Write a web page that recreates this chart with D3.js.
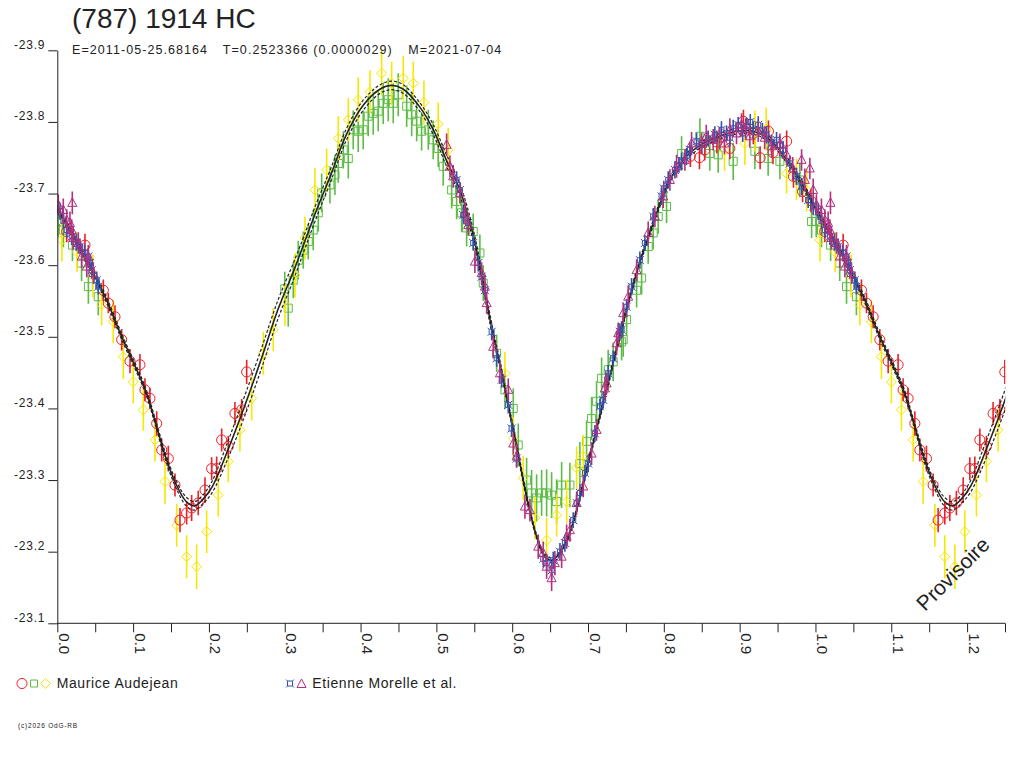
<!DOCTYPE html>
<html>
<head>
<meta charset="utf-8">
<title>(787) 1914 HC</title>
<script src="https://cdn.jsdelivr.net/npm/d3@7"></script>
<style>
  body { margin: 0; background: #fff; }
  svg { display: block; font-family: "Liberation Sans", Arial, sans-serif; }
</style>
</head>
<body>
<svg id="chart" width="1024" height="768"></svg>
<script>
// --- axis ticks ---
const xTicks = [0.0, 0.1, 0.2, 0.3, 0.4, 0.5, 0.6, 0.7, 0.8, 0.9, 1.0, 1.1, 1.2];
const xMinorTicks = [0.05, 0.15, 0.25, 0.35, 0.45, 0.55, 0.65, 0.75, 0.85, 0.95, 1.05, 1.15, 1.25];
const yTicks = [-23.9, -23.8, -23.7, -23.6, -23.5, -23.4, -23.3, -23.2, -23.1];

// --- fitted light curve (phase, magnitude, uncertainty of the fit) ---
const fitPhase = [0.000, 0.015, 0.040, 0.063, 0.085, 0.116, 0.129, 0.142, 0.155, 0.170, 0.181, 0.192, 0.204, 0.225, 0.247,
  0.270, 0.291, 0.311, 0.320, 0.342, 0.360, 0.382, 0.404, 0.426, 0.441, 0.456, 0.478, 0.496, 0.513, 0.531,
  0.549, 0.566, 0.575, 0.584, 0.597, 0.606, 0.6145, 0.623, 0.632, 0.643, 0.652, 0.663, 0.674, 0.685, 0.698,
  0.711, 0.7245, 0.738, 0.764, 0.786, 0.808, 0.830, 0.852, 0.874, 0.896, 0.918, 0.940, 0.962, 0.984, 1.000];
const fitMag = [-23.679, -23.652, -23.604, -23.556, -23.500, -23.426, -23.382, -23.335, -23.298, -23.270, -23.264, -23.273, -23.290, -23.342, -23.403,
  -23.472, -23.538, -23.590, -23.615, -23.677, -23.724, -23.784, -23.824, -23.846, -23.851, -23.846, -23.821, -23.789, -23.747, -23.705,
  -23.640, -23.550, -23.502, -23.461, -23.393, -23.347, -23.300, -23.258, -23.222, -23.194, -23.188, -23.198, -23.221, -23.258, -23.314,
  -23.370, -23.426, -23.485, -23.589, -23.659, -23.719, -23.752, -23.770, -23.780, -23.787, -23.787, -23.775, -23.747, -23.710, -23.679];
const fitSpread = [0.004, 0.004, 0.004, 0.004, 0.004, 0.004, 0.004, 0.005, 0.005, 0.006, 0.006, 0.006, 0.008, 0.012, 0.014,
  0.014, 0.013, 0.012, 0.011, 0.010, 0.009, 0.008, 0.007, 0.006, 0.006, 0.006, 0.006, 0.007, 0.008, 0.008,
  0.008, 0.007, 0.006, 0.005, 0.004, 0.004, 0.004, 0.003, 0.003, 0.003, 0.003, 0.003, 0.003, 0.003, 0.004,
  0.004, 0.004, 0.004, 0.004, 0.004, 0.004, 0.004, 0.004, 0.004, 0.004, 0.004, 0.004, 0.004, 0.004, 0.004];

// --- Maurice Audejean: [phase, magnitude, error] ---
const audejeanCircles = [
  [0.0124, -23.647, 0.015], [0.0365, -23.628, 0.016], [0.0607, -23.565, 0.015], [0.0673, -23.547, 0.014],
  [0.0761, -23.528, 0.016], [0.0849, -23.496, 0.015], [0.0959, -23.466, 0.017], [0.1090, -23.461, 0.015],
  [0.1156, -23.426, 0.016], [0.1222, -23.414, 0.015], [0.1311, -23.379, 0.017], [0.1377, -23.342, 0.016],
  [0.1464, -23.330, 0.018], [0.1552, -23.293, 0.016], [0.1618, -23.244, 0.017], [0.1706, -23.254, 0.016],
  [0.1772, -23.261, 0.018], [0.1859, -23.268, 0.017], [0.1948, -23.286, 0.018], [0.2036, -23.316, 0.016],
  [0.2102, -23.316, 0.017], [0.2168, -23.356, 0.016], [0.2255, -23.347, 0.015], [0.2343, -23.393, 0.016],
  [0.2432, -23.398, 0.015], [0.2498, -23.451, 0.017],
  [0.835, -23.752, 0.015], [0.847, -23.750, 0.016], [0.854, -23.761, 0.015], [0.870, -23.772, 0.016],
  [0.887, -23.763, 0.015], [0.905, -23.801, 0.016], [0.918, -23.784, 0.015], [0.927, -23.750, 0.016],
  [0.938, -23.787, 0.015], [0.944, -23.757, 0.016], [0.962, -23.773, 0.015], [0.971, -23.724, 0.016],
  [0.983, -23.703, 0.015], [0.994, -23.690, 0.016]
];
const audejeanSquares = [
  [0.001, -23.661, 0.022], [0.008, -23.649, 0.024], [0.020, -23.628, 0.022], [0.032, -23.603, 0.025],
  [0.041, -23.570, 0.024], [0.054, -23.556, 0.026],
  [0.300, -23.567, 0.024], [0.3046, -23.540, 0.026], [0.3112, -23.579, 0.025], [0.3178, -23.607, 0.027],
  [0.3244, -23.621, 0.026], [0.3310, -23.633, 0.025], [0.3376, -23.649, 0.028], [0.3442, -23.673, 0.026],
  [0.3487, -23.701, 0.027], [0.3596, -23.712, 0.026], [0.3662, -23.726, 0.028], [0.3706, -23.742, 0.027],
  [0.3772, -23.761, 0.026], [0.3838, -23.749, 0.028], [0.3903, -23.789, 0.027], [0.3969, -23.787, 0.029],
  [0.4035, -23.789, 0.027], [0.4101, -23.808, 0.028], [0.4167, -23.812, 0.030], [0.4233, -23.815, 0.028],
  [0.4299, -23.826, 0.029], [0.4365, -23.831, 0.030], [0.4431, -23.826, 0.028], [0.4497, -23.838, 0.030],
  [0.4608, -23.822, 0.029], [0.4674, -23.810, 0.030], [0.4740, -23.801, 0.028], [0.4805, -23.787, 0.027],
  [0.4893, -23.789, 0.028], [0.4958, -23.775, 0.027], [0.5024, -23.763, 0.026], [0.5090, -23.738, 0.027],
  [0.5201, -23.705, 0.026], [0.5267, -23.689, 0.025], [0.5333, -23.673, 0.027], [0.5399, -23.652, 0.026],
  [0.5486, -23.647, 0.025], [0.5574, -23.617, 0.026], [0.5618, -23.575, 0.025],
  [0.5795, -23.477, 0.026], [0.5904, -23.426, 0.027], [0.6014, -23.400, 0.028], [0.6080, -23.349, 0.030],
  [0.6190, -23.300, 0.031], [0.6256, -23.282, 0.032], [0.6322, -23.275, 0.033], [0.6388, -23.282, 0.032],
  [0.6454, -23.282, 0.033], [0.6520, -23.279, 0.032], [0.6586, -23.270, 0.031], [0.6652, -23.293, 0.032],
  [0.6761, -23.293, 0.031], [0.6893, -23.323, 0.030], [0.6981, -23.354, 0.029], [0.7047, -23.386, 0.030],
  [0.7113, -23.410, 0.028], [0.7179, -23.442, 0.029], [0.7266, -23.454, 0.028], [0.7332, -23.465, 0.027],
  [0.7443, -23.493, 0.026],
  [0.7464, -23.496, 0.024], [0.7509, -23.524, 0.023], [0.7641, -23.565, 0.024], [0.7707, -23.582, 0.023],
  [0.7794, -23.626, 0.024], [0.7860, -23.645, 0.023], [0.7926, -23.668, 0.024], [0.8036, -23.682, 0.023],
  [0.8234, -23.756, 0.024], [0.8476, -23.780, 0.025], [0.8607, -23.756, 0.024], [0.8717, -23.754, 0.025],
  [0.8915, -23.745, 0.026], [0.9201, -23.759, 0.025], [0.9376, -23.749, 0.024], [0.9531, -23.745, 0.025],
  [0.9794, -23.719, 0.024], [0.9949, -23.661, 0.023]
];
const audejeanDiamonds = [
  [0.006, -23.635, 0.030], [0.026, -23.618, 0.028], [0.047, -23.585, 0.030],
  [0.0585, -23.545, 0.029], [0.0738, -23.521, 0.030], [0.0870, -23.472, 0.031], [0.1002, -23.437, 0.030],
  [0.1134, -23.398, 0.029], [0.1288, -23.356, 0.030], [0.1420, -23.298, 0.031], [0.1575, -23.237, 0.030],
  [0.1706, -23.193, 0.030], [0.1838, -23.179, 0.031], [0.1970, -23.228, 0.030], [0.2123, -23.279, 0.030],
  [0.2255, -23.326, 0.029], [0.2409, -23.370, 0.030], [0.2564, -23.414, 0.031], [0.2717, -23.477, 0.030],
  [0.2848, -23.510, 0.030],
  [0.3003, -23.545, 0.030], [0.3135, -23.586, 0.031], [0.3266, -23.638, 0.030], [0.3398, -23.705, 0.031],
  [0.3553, -23.733, 0.030], [0.3706, -23.777, 0.031], [0.3838, -23.803, 0.030], [0.3969, -23.831, 0.031],
  [0.4124, -23.842, 0.030], [0.4278, -23.868, 0.031], [0.4410, -23.854, 0.030], [0.4563, -23.861, 0.031],
  [0.4695, -23.854, 0.030], [0.4836, -23.827, 0.031], [0.5024, -23.797, 0.030], [0.5156, -23.761, 0.030],
  [0.5904, -23.449, 0.030], [0.6014, -23.358, 0.030], [0.6145, -23.303, 0.031], [0.6300, -23.247, 0.030],
  [0.6454, -23.216, 0.031], [0.6586, -23.251, 0.030], [0.6718, -23.270, 0.031], [0.6850, -23.317, 0.030],
  [0.6937, -23.333, 0.030],
  [0.880, -23.760, 0.028], [0.9069, -23.770, 0.030], [0.9201, -23.787, 0.029], [0.935, -23.790, 0.030],
  [0.9619, -23.728, 0.028], [0.975, -23.720, 0.029], [0.9883, -23.705, 0.030]
];

// --- Etienne Morelle et al.: [phase, magnitude, error] ---
const morelleStars = [
  [0.0036, -23.675, 0.012], [0.008, -23.662, 0.012], [0.0124, -23.649, 0.011], [0.0190, -23.640, 0.012],
  [0.025, -23.632, 0.012], [0.0299, -23.626, 0.011], [0.036, -23.617, 0.012], [0.0409, -23.612, 0.012],
  [0.0431, -23.603, 0.011], [0.0454, -23.593, 0.012], [0.0520, -23.579, 0.012], [0.0540, -23.570, 0.011],
  [0.5267, -23.719, 0.012], [0.5310, -23.705, 0.011], [0.5354, -23.670, 0.012], [0.5420, -23.659, 0.012],
  [0.5486, -23.631, 0.011], [0.5552, -23.603, 0.012], [0.5597, -23.584, 0.012], [0.5640, -23.565, 0.011],
  [0.5729, -23.507, 0.012], [0.5795, -23.470, 0.012], [0.5861, -23.440, 0.011], [0.5948, -23.405, 0.012],
  [0.5992, -23.372, 0.012], [0.6058, -23.330, 0.011], [0.6410, -23.190, 0.012], [0.6454, -23.184, 0.012],
  [0.6520, -23.174, 0.013], [0.6541, -23.188, 0.012], [0.6630, -23.200, 0.012], [0.6695, -23.212, 0.012],
  [0.6805, -23.244, 0.011], [0.6850, -23.268, 0.012], [0.6893, -23.282, 0.012], [0.6959, -23.310, 0.011],
  [0.7003, -23.323, 0.012], [0.7091, -23.365, 0.012], [0.7157, -23.403, 0.011], [0.7200, -23.412, 0.012],
  [0.7266, -23.449, 0.012], [0.7332, -23.470, 0.011], [0.7420, -23.507, 0.012],
  [0.7443, -23.510, 0.012], [0.7509, -23.542, 0.011], [0.7575, -23.570, 0.012], [0.7684, -23.607, 0.012],
  [0.7750, -23.631, 0.011], [0.7860, -23.668, 0.012], [0.7970, -23.696, 0.012], [0.8000, -23.707, 0.011],
  [0.8058, -23.719, 0.012], [0.8146, -23.733, 0.012], [0.8200, -23.740, 0.011], [0.8234, -23.745, 0.012],
  [0.8300, -23.752, 0.012], [0.8344, -23.761, 0.011], [0.8432, -23.773, 0.012], [0.8500, -23.768, 0.012],
  [0.8585, -23.777, 0.011], [0.8673, -23.782, 0.012], [0.8760, -23.789, 0.012], [0.8828, -23.784, 0.011],
  [0.8870, -23.778, 0.012], [0.8915, -23.791, 0.012], [0.8981, -23.796, 0.011], [0.9040, -23.784, 0.012],
  [0.9091, -23.794, 0.012], [0.9140, -23.800, 0.011], [0.9179, -23.789, 0.012], [0.9245, -23.796, 0.012],
  [0.9300, -23.788, 0.011], [0.9355, -23.782, 0.012], [0.9420, -23.770, 0.012], [0.9487, -23.775, 0.011],
  [0.9530, -23.768, 0.012], [0.9574, -23.761, 0.012], [0.9662, -23.742, 0.011], [0.9750, -23.724, 0.012],
  [0.9817, -23.710, 0.012], [0.9904, -23.691, 0.011], [0.9970, -23.682, 0.012]
];
const morelleTriangles = [
  [0.0013, -23.684, 0.015], [0.0079, -23.677, 0.016], [0.0124, -23.663, 0.015], [0.0167, -23.659, 0.016],
  [0.0198, -23.687, 0.016], [0.0190, -23.649, 0.015], [0.0211, -23.638, 0.016], [0.0277, -23.631, 0.015],
  [0.0322, -23.612, 0.016], [0.0388, -23.598, 0.015], [0.0409, -23.612, 0.016], [0.0475, -23.589, 0.015],
  [0.5135, -23.768, 0.016], [0.5179, -23.738, 0.015], [0.5222, -23.724, 0.016], [0.5310, -23.701, 0.015],
  [0.5377, -23.673, 0.016], [0.5420, -23.656, 0.015], [0.5508, -23.605, 0.016], [0.5597, -23.589, 0.015],
  [0.5640, -23.570, 0.016], [0.5663, -23.547, 0.015],
  [0.5750, -23.486, 0.016], [0.5838, -23.449, 0.015], [0.5948, -23.426, 0.016], [0.6014, -23.351, 0.015],
  [0.6058, -23.333, 0.016], [0.6168, -23.263, 0.017], [0.6234, -23.258, 0.016], [0.6343, -23.207, 0.017],
  [0.6409, -23.198, 0.016], [0.6454, -23.179, 0.017], [0.6520, -23.163, 0.018], [0.6563, -23.184, 0.017],
  [0.6652, -23.193, 0.016], [0.6718, -23.221, 0.017], [0.6761, -23.230, 0.016], [0.6850, -23.268, 0.016],
  [0.6937, -23.291, 0.015], [0.7047, -23.337, 0.016], [0.7113, -23.370, 0.015], [0.7223, -23.428, 0.016],
  [0.7245, -23.435, 0.015], [0.7377, -23.491, 0.016], [0.7398, -23.505, 0.015],
  [0.7464, -23.533, 0.015], [0.7530, -23.556, 0.016], [0.7641, -23.593, 0.015], [0.7794, -23.645, 0.016],
  [0.7882, -23.668, 0.015], [0.7992, -23.696, 0.016], [0.8080, -23.719, 0.015], [0.8168, -23.738, 0.016],
  [0.8278, -23.747, 0.015], [0.8366, -23.770, 0.016], [0.8498, -23.770, 0.015], [0.8560, -23.780, 0.016],
  [0.8651, -23.775, 0.015], [0.8739, -23.777, 0.016], [0.8800, -23.770, 0.015], [0.8871, -23.789, 0.016],
  [0.8959, -23.784, 0.015], [0.9025, -23.796, 0.016], [0.9080, -23.790, 0.015], [0.9135, -23.780, 0.016],
  [0.9245, -23.787, 0.015], [0.9330, -23.778, 0.016], [0.9421, -23.766, 0.015], [0.9531, -23.768, 0.016],
  [0.9619, -23.754, 0.015], [0.9700, -23.735, 0.016], [0.9817, -23.747, 0.015], [0.9860, -23.719, 0.016],
  [0.9926, -23.735, 0.015], [0.9970, -23.705, 0.016]
];

// --- couleurs et symboles ---
const RED = '#ea2028', GREEN = '#5cbc44', YELLOW = '#f6e800', BLUE = '#3452ac', MAGENTA = '#b2307e', INK = '#222';
const symCircle = d3.symbol(d3.symbolCircle, 80)();
const symSquare = 'M-4,-4H4V4H-4Z';
const symDiamond = 'M0,-5L5,0L0,5L-5,0Z';
const symTriangle = 'M0,-5L4.5,3.5H-4.5Z';
const symStar = 'M-2.5,-2.5H2.5V2.5H-2.5Z M-4,-4L-2.5,-2.5 M4,-4L2.5,-2.5 M-4,4L-2.5,2.5 M4,4L2.5,2.5';

const svg = d3.select('#chart');
svg.append('rect').attr('width', 1024).attr('height', 768).attr('fill', '#fff');

const x = d3.scaleLinear().domain([0, 1.25]).range([57.3, 1005]);
const y = d3.scaleLinear().domain([-23.1, -23.9]).range([623.3, 50.3]);

// 相位 > 1 的部分重复 0 ~ 0.25
function withRepeat(rows) {
  return rows.concat(rows.filter(d => d[0] <= 0.25).map(d => [d[0] + 1, d[1], d[2]]));
}

svg.append('clipPath').attr('id', 'plot-clip')
  .append('rect').attr('x', 57.3).attr('y', 30).attr('width', 948).attr('height', 594);
const plot = svg.append('g').attr('clip-path', 'url(#plot-clip)');

function drawSeries(rows, color, symbolPath) {
  const pts = withRepeat(rows);
  const g = plot.append('g').attr('stroke', color).attr('fill', 'none');
  g.selectAll('line').data(pts).join('line')
    .attr('x1', d => x(d[0])).attr('x2', d => x(d[0]))
    .attr('y1', d => y(d[1] - d[2])).attr('y2', d => y(d[1] + d[2]))
    .attr('stroke-width', 1.6);
  g.selectAll('path').data(pts).join('path')
    .attr('d', symbolPath)
    .attr('stroke-width', 1)
    .attr('transform', d => `translate(${x(d[0])},${y(d[1])})`);
}

// Audejean first, then the fit, then Morelle on top
drawSeries(audejeanSquares, GREEN, symSquare);
drawSeries(audejeanDiamonds, YELLOW, symDiamond);
drawSeries(audejeanCircles, RED, symCircle);

const fitRows = fitPhase.map((p, i) => [p, fitMag[i], fitSpread[i]]);
const fitAll = fitRows.concat(fitRows.filter(d => d[0] > 0 && d[0] <= 0.3).map(d => [d[0] + 1, d[1], d[2]]));
const fitLine = off => d3.line().curve(d3.curveCatmullRom)
  .x(d => x(d[0])).y(d => y(d[1] + off * d[2]));
plot.append('path').datum(fitAll).attr('d', fitLine(-1))
  .attr('fill', 'none').attr('stroke', INK).attr('stroke-width', 1.2).attr('stroke-dasharray', '3,2');
plot.append('path').datum(fitAll).attr('d', fitLine(1))
  .attr('fill', 'none').attr('stroke', INK).attr('stroke-width', 1.2).attr('stroke-dasharray', '3,2');
plot.append('path').datum(fitAll).attr('d', fitLine(0))
  .attr('fill', 'none').attr('stroke', INK).attr('stroke-width', 1.6);

drawSeries(morelleStars, BLUE, symStar);
drawSeries(morelleTriangles, MAGENTA, symTriangle);

// --- axes ---
const yAxis = d3.axisLeft(y).tickValues(yTicks).tickSize(9).tickPadding(3).tickSizeOuter(0)
  .tickFormat(d => d.toFixed(1));
svg.append('g').attr('transform', 'translate(57.3,0)').call(yAxis)
  .attr('font-family', null).attr('font-size', 12)
  .call(g => g.selectAll('line, path').attr('stroke', INK))
  .call(g => g.selectAll('text').attr('fill', INK).attr('dy', -2).attr('letter-spacing', 0.8));

const xAxis = d3.axisBottom(x).tickValues(xTicks.concat(xMinorTicks)).tickSize(9).tickSizeOuter(0)
  .tickFormat(d => xTicks.includes(d) ? d.toFixed(1) : '');
svg.append('g').attr('transform', 'translate(0,623.3)').call(xAxis)
  .attr('font-family', null).attr('font-size', 15)
  .call(g => g.select('.domain').attr('d', 'M57.3,0H1005'))
  .call(g => g.selectAll('line, path').attr('stroke', INK))
  .call(g => g.selectAll('text').attr('fill', INK)
    .attr('transform', 'rotate(90)').attr('text-anchor', 'start')
    .attr('x', 10).attr('y', -1).attr('dy', 0));

// --- titres ---
svg.append('text').attr('x', 72).attr('y', 28).attr('font-size', 28).attr('fill', INK)
  .text('(787) 1914 HC');
const subTexts = ['E=2011-05-25.68164', 'T=0.2523366 (0.0000029)', 'M=2021-07-04'];
const subX = [72, 222.7, 408.3];
const subW = [135, 169, 93];
svg.append('g').selectAll('text').data(subTexts).join('text')
  .attr('x', (d, i) => subX[i]).attr('y', 54).attr('font-size', 12.5).attr('fill', INK)
  .attr('textLength', (d, i) => subW[i]).attr('lengthAdjust', 'spacing')
  .text(d => d);

// --- légende ---
const legend = svg.append('g').attr('fill', 'none').attr('stroke-width', 1);
legend.append('path').attr('d', symCircle).attr('stroke', RED).attr('transform', 'translate(22,683.5)');
legend.append('path').attr('d', 'M-3.5,-3.5H3.5V3.5H-3.5Z').attr('stroke', GREEN).attr('transform', 'translate(34,683.5)');
legend.append('path').attr('d', symDiamond).attr('stroke', YELLOW).attr('transform', 'translate(45.5,683.5)');
legend.append('path').attr('d', symStar).attr('stroke', BLUE).attr('transform', 'translate(290,683.5)');
legend.append('path').attr('d', symTriangle).attr('stroke', MAGENTA).attr('transform', 'translate(301.5,684)');
svg.append('text').attr('x', 56.7).attr('y', 688).attr('font-size', 14).attr('letter-spacing', 0.6)
  .attr('fill', INK).text('Maurice Audejean');
svg.append('text').attr('x', 312.3).attr('y', 688).attr('font-size', 14).attr('letter-spacing', 0.6)
  .attr('fill', INK).text('Etienne Morelle et al.');

svg.append('text').attr('x', 18).attr('y', 727.5).attr('font-size', 6.5).attr('letter-spacing', 0.8)
  .attr('fill', INK).text('(c)2026 OdG-RB');

svg.append('text').attr('transform', 'translate(925,612) rotate(-45)').attr('font-size', 21)
  .attr('fill', INK).text('Provisoire');
</script>
</body>
</html>
